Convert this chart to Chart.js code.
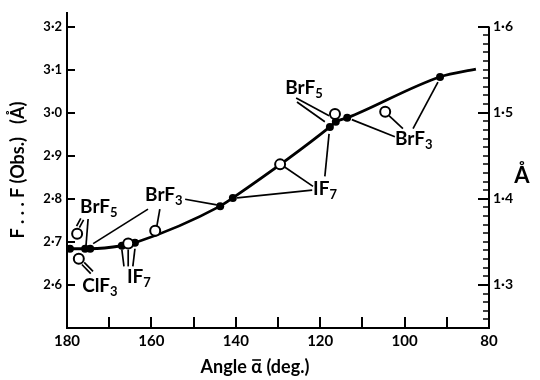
<!DOCTYPE html>
<html><head><meta charset="utf-8">
<script src="https://cdn.jsdelivr.net/npm/chart.js@4/dist/chart.umd.min.js"></script>
<style>html,body{margin:0;padding:0;background:#fff}#wrap{width:540px;height:380px;position:relative}</style>
</head><body><div id="wrap"><canvas id="c" width="540" height="380"></canvas></div>
<script>
// ---- data ----
const curveAngles = [180, 179.3, 175.7, 174.5, 167.0, 163.9, 143.7, 140.7, 117.7, 116.3, 113.6, 91.6, 83.1];
const curveValues = [2.684, 2.684, 2.684, 2.684, 2.691, 2.698, 2.783, 2.802, 2.967, 2.979, 2.988, 3.083, 3.101];
const filledAngles = [179.3, 175.7, 174.5, 167.0, 163.9, 143.7, 140.7, 117.7, 116.3, 113.6, 91.6];
const filledValues = [2.684, 2.684, 2.684, 2.691, 2.698, 2.783, 2.802, 2.967, 2.979, 2.988, 3.083];
const openAngles = [177.6, 177.2, 165.5, 159.1, 129.5, 116.5, 104.6];
const openValues = [2.719, 2.661, 2.696, 2.726, 2.880, 2.997, 3.002];
const xTicks = [180, 160, 140, 120, 100, 80];
const xMinorTicks = [170, 150, 130, 110, 90];
const yTicks = [2.6, 2.7, 2.8, 2.9, 3.0, 3.1, 3.2];
const y2Ticks = [1.3, 1.4, 1.5, 1.6];
const labelMain = ['BrF', 'BrF', 'ClF', 'IF', 'BrF', 'IF', 'BrF'];
const labelSub = ['5', '3', '3', '7', '5', '7', '3'];
const labelAngles = [176.9, 161.5, 176.4, 165.8, 128.3, 121.7, 102.3];
const labelValues = [2.767, 2.795, 2.583, 2.604, 3.043, 2.809, 2.924];
// leader lines: [angle1, value1, angle2, value2, double]
const leaders = [
  [176.4, 2.753, 177.4, 2.735, true],
  [175.0, 2.753, 175.5, 2.691, false],
  [174.1, 2.629, 176.2, 2.650, true],
  [166.5, 2.643, 167.0, 2.682, false],
  [165.5, 2.643, 165.5, 2.682, false],
  [164.4, 2.643, 163.9, 2.684, false],
  [160.8, 2.776, 173.8, 2.696, false],
  [158.0, 2.776, 158.7, 2.737, false],
  [152.0, 2.799, 144.5, 2.786, false],
  [125.7, 3.034, 117.9, 2.993, false],
  [125.5, 3.025, 118.9, 2.979, false],
  [121.7, 2.829, 128.6, 2.875, false],
  [121.9, 2.820, 139.7, 2.802, false],
  [118.9, 2.852, 117.9, 2.951, false],
  [102.3, 2.944, 112.5, 2.984, false],
  [100.4, 2.963, 103.7, 2.993, false],
  [98.0, 2.963, 92.1, 3.071, false]
];

const FONT = 'Lato, "Open Sans", "DejaVu Sans", sans-serif';
const toPts = (xs, ys) => xs.map((x, i) => ({x: x, y: ys[i]}));

const decor = {
  id: 'decor',
  afterDatasetsDraw(chart) {
    const ctx = chart.ctx;
    const xs = chart.scales.x, ys = chart.scales.y, y2 = chart.scales.y2;
    const ca = chart.chartArea;
    ctx.save();
    ctx.strokeStyle = '#000';
    ctx.fillStyle = '#000';
    // left ticks (inward)
    ctx.lineWidth = 2;
    yTicks.forEach(v => {
      const p = Math.round(ys.getPixelForValue(v));
      ctx.beginPath(); ctx.moveTo(ca.left, p); ctx.lineTo(ca.left + 8, p); ctx.stroke();
    });
    // bottom ticks (inward)
    xTicks.concat(xMinorTicks).forEach(v => {
      if (v === 180 || v === 80) return;
      const p = Math.round(xs.getPixelForValue(v));
      ctx.beginPath(); ctx.moveTo(p, ca.bottom); ctx.lineTo(p, ca.bottom - 11); ctx.stroke();
    });
    // right axis
    const topR = y2.getPixelForValue(1.6);
    ctx.beginPath(); ctx.moveTo(ca.right, topR); ctx.lineTo(ca.right, ca.bottom); ctx.stroke();
    for (let k = 125; k <= 160; k++) {
      const v = k / 100;
      const p = Math.round(y2.getPixelForValue(v));
      const major = (k % 10 === 0);
      ctx.lineWidth = major ? 2 : 1.5;
      ctx.beginPath(); ctx.moveTo(ca.right, p); ctx.lineTo(ca.right - (major ? 11 : 6), p); ctx.stroke();
    }
    // leaders
    ctx.lineWidth = 1.7;
    leaders.forEach(l => {
      const x1 = xs.getPixelForValue(l[0]), y1 = ys.getPixelForValue(l[1]);
      const x2 = xs.getPixelForValue(l[2]), y2p = ys.getPixelForValue(l[3]);
      if (l[4]) {
        const dx = x2 - x1, dy = y2p - y1, len = Math.hypot(dx, dy);
        const nx = -dy / len * 1.6, ny = dx / len * 1.6;
        [-1, 1].forEach(s => {
          ctx.beginPath(); ctx.moveTo(x1 + s * nx, y1 + s * ny); ctx.lineTo(x2 + s * nx, y2p + s * ny); ctx.stroke();
        });
      } else {
        ctx.beginPath(); ctx.moveTo(x1, y1); ctx.lineTo(x2, y2p); ctx.stroke();
      }
    });
    // compound labels
    ctx.textBaseline = 'alphabetic';
    ctx.textAlign = 'left';
    labelMain.forEach((m, i) => {
      const x = xs.getPixelForValue(labelAngles[i]);
      const y = ys.getPixelForValue(labelValues[i]);
      ctx.font = 'bold 19px ' + FONT;
      ctx.fillText(m, x, y);
      const w = ctx.measureText(m).width;
      ctx.font = 'bold 13px ' + FONT;
      ctx.fillText(labelSub[i], x + w, y + 4);
    });
    // axis titles
    ctx.font = 'bold 18px ' + FONT;
    ctx.textAlign = 'left';
    ctx.textBaseline = 'alphabetic';
    const t1 = 'Angle ', t2 = '\u03B1', t3 = ' (deg.)';
    const w1 = ctx.measureText(t1).width, w2 = ctx.measureText(t2).width, w3 = ctx.measureText(t3).width;
    const sx = 255 - (w1 + w2 + w3) / 2, by = 373;
    ctx.fillText(t1, sx, by);
    ctx.fillText(t2, sx + w1, by);
    ctx.fillText(t3, sx + w1 + w2, by);
    ctx.lineWidth = 1.6;
    ctx.beginPath(); ctx.moveTo(sx + w1 + 1, by - 13); ctx.lineTo(sx + w1 + w2 - 1, by - 13); ctx.stroke();
    ctx.textAlign = 'center';
    ctx.textBaseline = 'middle';
    ctx.font = 'bold 22px ' + FONT;
    ctx.fillText('\u00C5', 522, 176);
    ctx.save();
    ctx.translate(18, 170);
    ctx.rotate(-Math.PI / 2);
    ctx.font = 'bold 18px ' + FONT;
    ctx.fillText('F . . . F (Obs.)   (\u00C5)', 0, 0);
    ctx.restore();
    ctx.restore();
  }
};

new Chart(document.getElementById('c'), {
  type: 'scatter',
  data: {
    datasets: [
      {
        data: toPts(openAngles, openValues),
        pointRadius: 5, pointBorderWidth: 2,
        pointBackgroundColor: '#fff', pointBorderColor: '#000',
        showLine: false, order: 0
      },
      {
        data: toPts(filledAngles, filledValues),
        pointRadius: 4, pointBorderWidth: 0,
        pointBackgroundColor: '#000', pointBorderColor: '#000',
        showLine: false, order: 1
      },
      {
        data: toPts(curveAngles, curveValues),
        showLine: true, pointRadius: 0, borderColor: '#000', borderWidth: 2.8,
        cubicInterpolationMode: 'monotone', fill: false, order: 2
      }
    ]
  },
  options: {
    responsive: false,
    animation: false,
    devicePixelRatio: 1,
    layout: {padding: {top: 10, left: 0, right: 0, bottom: 0}},
    plugins: {legend: {display: false}, tooltip: {enabled: false}},
    scales: {
      x: {
        type: 'linear', position: 'bottom', reverse: true, min: 80, max: 180,
        afterBuildTicks: s => { s.ticks = xTicks.map(v => ({value: v})); },
        afterFit: s => { s.height = 52; },
        grid: {display: false, drawTicks: false},
        border: {display: true, color: '#000', width: 2},
        ticks: {color: '#000', padding: 4, font: {family: FONT, size: 15, weight: 'bold'}, callback: v => String(v)}
      },
      y: {
        type: 'linear', position: 'left', min: 2.5, max: 3.232,
        afterBuildTicks: s => { s.ticks = yTicks.map(v => ({value: v})); },
        afterFit: s => { s.width = 67; },
        grid: {display: false, drawTicks: false},
        border: {display: true, color: '#000', width: 2},
        ticks: {color: '#000', padding: 5, font: {family: FONT, size: 13, weight: 'bold'}, callback: v => v.toFixed(1).replace('.', '\u00B7')}
      },
      y2: {
        type: 'linear', position: 'right', min: 1.25, max: 1.616,
        afterBuildTicks: s => { s.ticks = y2Ticks.map(v => ({value: v})); },
        afterFit: s => { s.width = 51; },
        grid: {display: false, drawTicks: false},
        border: {display: false},
        ticks: {color: '#000', padding: 4, font: {family: FONT, size: 14, weight: 'bold'}, callback: v => v.toFixed(1).replace('.', '\u00B7')}
      }
    }
  },
  plugins: [decor]
});
</script></body></html>
